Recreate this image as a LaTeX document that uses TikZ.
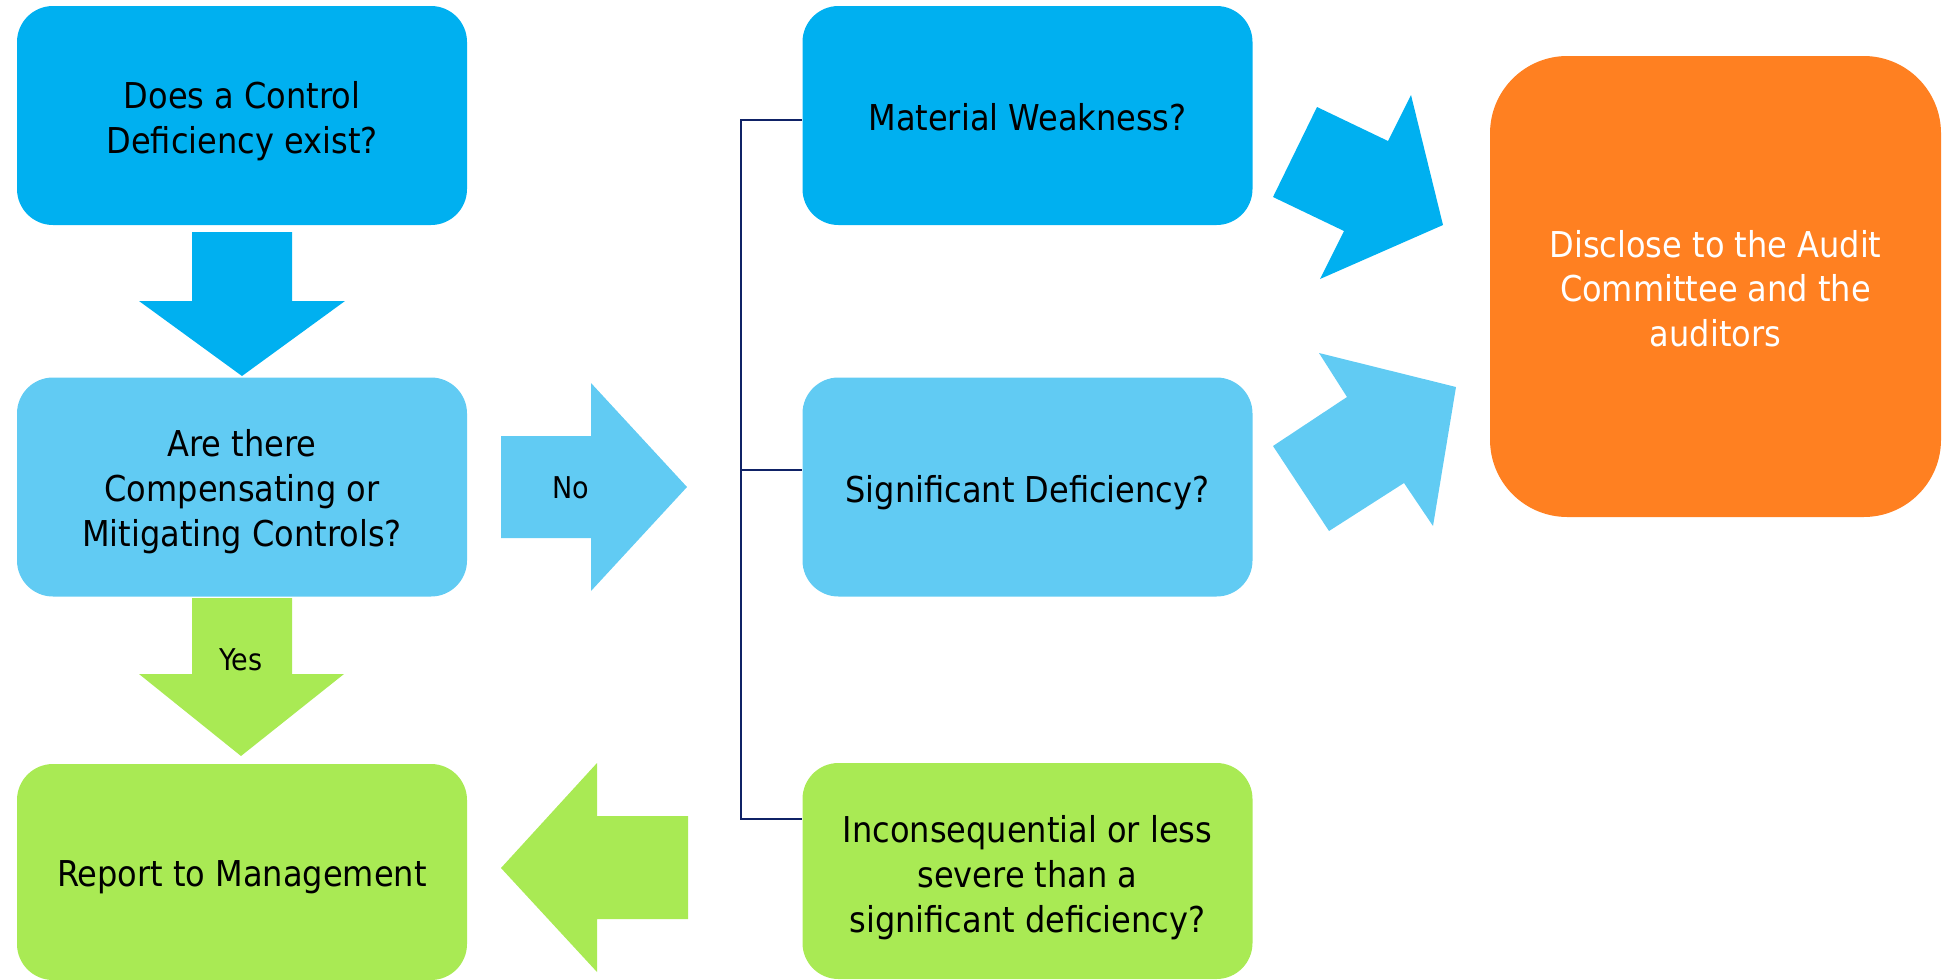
\documentclass[tikz,border=0pt]{standalone}
\usepackage{fontspec}
\setmainfont{DejaVu Sans Condensed}
\usetikzlibrary{calc}
\definecolor{dblue}{HTML}{00B0F0}
\definecolor{lblue}{HTML}{61CBF3}
\definecolor{lgreen}{HTML}{A9EA54}
\definecolor{orng}{HTML}{FF8021}
\definecolor{navy}{HTML}{0F2266}
\tikzset{
  box/.style={rounded corners=27pt, minimum width=450*0.75pt, minimum height=219*0.75pt,
    inner sep=0pt},
  bigbox/.style={rounded corners=58pt, minimum width=451*0.75pt, minimum height=461*0.75pt,
    inner sep=0pt},
  txt/.style={inner sep=0pt, align=center, font=\fontsize{26.7pt}{34pt}\selectfont},
  lbl/.style={inner sep=0pt, font=\fontsize{22.5pt}{27pt}\selectfont},
  bracket/.style={draw=navy, line width=1.9pt},
  bracketthin/.style={draw=navy, line width=1.1pt},
}
\begin{document}
\begin{tikzpicture}[x=0.75pt, y=-0.75pt]
\useasboundingbox (0,0) rectangle (1949,979);
% boxes
\node[box, fill=dblue] (q1) at (242,115.5) {};
\node[txt] (q1t) at ([yshift=-4.5pt]q1.center) {Does a Control\\Deficiency exist?};
\node[box, fill=lblue] (q2) at (242,487) {};
\node[txt] (q2t) at ([yshift=-3.5pt]q2.center) {Are there\\Compensating or\\Mitigating Controls?};
\node[box, fill=lgreen, minimum height=216*0.75pt] (rep) at (242,872) {};
\node[txt] (rept) at ([yshift=-4pt]rep.center) {Report to Management};
\node[box, fill=dblue] (mw) at (1027.5,115.5) {};
\node[txt] (mwt) at ([yshift=-1.5pt]mw.center) {Material Weakness?};
\node[box, fill=lblue] (sig) at (1027.5,487) {};
\node[txt] (sigt) at ([yshift=-4pt]sig.center) {Significant Deficiency?};
\node[box, fill=lgreen, minimum height=216*0.75pt] (inc) at (1027.5,871) {};
\node[txt] (inct) at ([yshift=-5pt]inc.center) {Inconsequential or less\\severe than a\\significant deficiency?};
\node[bigbox, fill=orng] (disc) at (1715.5,286.5) {};
\node[txt, text=white, font=\fontsize{26.7pt}{33.5pt}\selectfont] (disct) at ([yshift=-1.5pt]disc.center) {Disclose to the Audit\\Committee and the\\auditors};
% block arrows
\fill[dblue] (192,232) -- (292,232) -- (292,301) -- (345,301) -- (242,376) -- (139,301) -- (192,301) -- cycle;
\fill[lgreen] (192,598) -- (292,598) -- (292,674) -- (344,674) -- (241,756) -- (139,674) -- (192,674) -- cycle;
\node[lbl] (yes) at (241,660) {Yes};
\fill[lblue] (501,436) -- (591,436) -- (591,383) -- (687,487) -- (591,591) -- (591,538) -- (501,538) -- cycle;
\node[lbl] (no) at (571,488) {No};
\fill[lgreen] (688,816) -- (597,816) -- (597,763) -- (501,868) -- (597,972) -- (597,919) -- (688,919) -- cycle;
\fill[dblue] (1273,197) -- (1317,107) -- (1388,141) -- (1411,95) -- (1443,225) -- (1320,279) -- (1344,231) -- cycle;
\fill[lblue] (1273,446) -- (1347,397) -- (1319,353) -- (1456,387) -- (1433,526) -- (1404,483) -- (1329,531) -- cycle;
% bracket
\coordinate (sp1) at (741,120);
\coordinate (sp2) at (741,470);
\coordinate (sp3) at (741,819);
\draw[bracket] (mw.west |- sp1) -- (sp1) -- (sp3) -- (inc.west |- sp3);
\draw[bracketthin] (sp2) -- (sig.west |- sp2);
\end{tikzpicture}
\end{document}
